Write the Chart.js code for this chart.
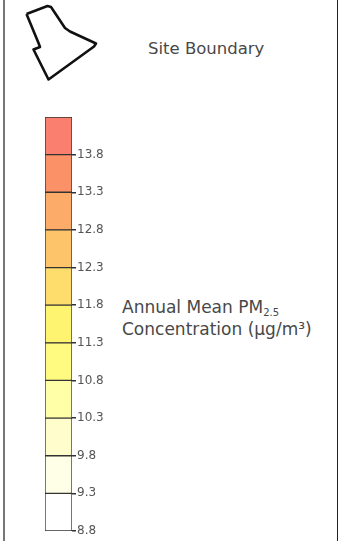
<!DOCTYPE html>
<html>
<head>
<meta charset="utf-8">
<script src="https://cdn.jsdelivr.net/npm/chart.js@4"></script>
<style>
  html, body { margin: 0; padding: 0; background: #fff; }
  body { width: 344px; height: 541px; position: relative; overflow: hidden; font-family: "DejaVu Sans", sans-serif; color: #484848; }
  .frame { position: absolute; left: 3px; top: 0; width: 332px; height: 541px; border-left: 2px solid #777; border-right: 1.5px solid #222; }
  #boundary { position: absolute; left: 0; top: 0; }
  #scale { position: absolute; left: 0; top: 0; }
  .site { position: absolute; left: 148px; top: 39px; font-size: 16.5px; }
  .title { position: absolute; left: 122px; top: 296px; font-size: 17px; line-height: 22px; }
  .title sub { font-size: 10px; vertical-align: -3px; line-height: 0; }
</style>
</head>
<body>
<div class="frame"></div>
<canvas id="boundary" width="110" height="95"></canvas>
<canvas id="scale" width="110" height="541"></canvas>
<div class="site">Site Boundary</div>
<div class="title">Annual Mean PM<sub>2.5</sub><br>Concentration (µg/m³)</div>
<script>
// colour classes of annual mean PM2.5, lowest to highest (µg/m³)
const binLows  = [8.8, 9.3, 9.8, 10.3, 10.8, 11.3, 11.8, 12.3, 12.8, 13.3, 13.8];
const binHighs = [9.3, 9.8, 10.3, 10.8, 11.3, 11.8, 12.3, 12.8, 13.3, 13.8, 14.3];
const binColors = ['#ffffff', '#fffee6', '#fffdcc', '#ffffa8', '#fffa80', '#fff470',
                   '#fedd6c', '#fdc46a', '#fdab68', '#fb9167', '#fa7f6e'];
const tickValues = [8.8, 9.3, 9.8, 10.3, 10.8, 11.3, 11.8, 12.3, 12.8, 13.3, 13.8];

// site boundary outline (local grid units)
const boundaryX = [26.5, 47.5, 51, 65, 70, 96, 94, 48.5, 33.5, 40, 38.5, 26.5];
const boundaryY = [14, 6, 7, 28, 31.5, 43.5, 46.5, 79.5, 49.5, 47, 43, 14];

new Chart(document.getElementById('boundary'), {
  type: 'scatter',
  data: {
    datasets: [{
      data: boundaryX.map((x, i) => ({ x: x, y: boundaryY[i] })),
      showLine: true,
      borderColor: '#111',
      borderWidth: 2.6,
      borderJoinStyle: 'round',
      pointRadius: 0,
      tension: 0
    }]
  },
  options: {
    responsive: false,
    animation: false,
    layout: { padding: 0 },
    plugins: { legend: { display: false }, tooltip: { enabled: false } },
    scales: {
      x: { type: 'linear', min: 0, max: 110, display: false },
      y: { type: 'linear', min: 0, max: 95, reverse: true, display: false }
    }
  }
});

new Chart(document.getElementById('scale'), {
  type: 'bar',
  data: {
    labels: ['PM2.5'],
    datasets: binLows.map((lo, i) => ({
      data: [[lo, binHighs[i]]],
      backgroundColor: binColors[i],
      borderColor: '#333',
      borderWidth: 1,
      borderSkipped: false,
      grouped: false,
      barPercentage: 1,
      categoryPercentage: 1
    }))
  },
  options: {
    responsive: false,
    animation: false,
    layout: { padding: { left: 45, top: 117, bottom: 10, right: 0 } },
    plugins: { legend: { display: false }, tooltip: { enabled: false } },
    scales: {
      x: { display: false },
      y: {
        position: 'right',
        min: 8.8,
        max: 14.3,
        afterBuildTicks: (axis) => { axis.ticks = tickValues.map(v => ({ value: v })); },
        afterFit: (axis) => { axis.width = 38; },
        border: { display: false },
        grid: { drawOnChartArea: false, drawTicks: true, tickLength: 4, color: '#333', lineWidth: 1.5 },
        ticks: {
          padding: 1,
          color: '#555',
          font: { family: 'DejaVu Sans', size: 12 },
          callback: (v) => v.toFixed(1)
        }
      }
    }
  }
});
</script>
</body>
</html>
